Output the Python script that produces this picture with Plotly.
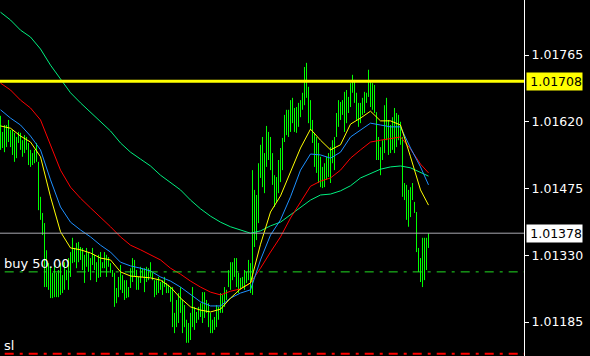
import plotly.graph_objects as go

# ---- bar data (high / low per bar, oldest -> newest) ----
highs = [
    1.01633, 1.01598, 1.01613, 1.01613, 1.01624, 1.01602, 1.01602, 1.01596, 1.01587, 1.01598,
    1.01596, 1.01580, 1.01591, 1.01587, 1.01574, 1.01559, 1.01552, 1.01559, 1.01574, 1.01533,
    1.01457, 1.01422, 1.01400, 1.01341, 1.01313, 1.01305, 1.01292, 1.01313, 1.01292, 1.01298,
    1.01313, 1.01287, 1.01315, 1.01298, 1.01324, 1.01337, 1.01368, 1.01346, 1.01357, 1.01359,
    1.01348, 1.01346, 1.01331, 1.01346, 1.01337, 1.01324, 1.01346, 1.01331, 1.01315, 1.01331,
    1.01337, 1.01315, 1.01337, 1.01331, 1.01326, 1.01313, 1.01298, 1.01292, 1.01259, 1.01283,
    1.01309, 1.01287, 1.01276, 1.01276, 1.01261, 1.01302, 1.01324, 1.01320, 1.01298, 1.01283,
    1.01305, 1.01302, 1.01302, 1.01305, 1.01302, 1.01315, 1.01292, 1.01276, 1.01276, 1.01283,
    1.01272, 1.01276, 1.01283, 1.01270, 1.01266, 1.01261, 1.01261, 1.01205, 1.01233, 1.01248,
    1.01261, 1.01233, 1.01222, 1.01190, 1.01183, 1.01205, 1.01261, 1.01218, 1.01207, 1.01218,
    1.01226, 1.01250, 1.01250, 1.01233, 1.01226, 1.01205, 1.01190, 1.01196, 1.01222, 1.01218,
    1.01248, 1.01244, 1.01261, 1.01255, 1.01298, 1.01315, 1.01315, 1.01324, 1.01324, 1.01292,
    1.01281, 1.01283, 1.01298, 1.01294, 1.01320, 1.01313, 1.01515, 1.01472, 1.01461, 1.01530,
    1.01570, 1.01587, 1.01552, 1.01611, 1.01598, 1.01587, 1.01552, 1.01504, 1.01500, 1.01537,
    1.01563, 1.01585, 1.01635, 1.01646, 1.01646, 1.01667, 1.01672, 1.01650, 1.01652, 1.01661,
    1.01667, 1.01683, 1.01739, 1.01748, 1.01696, 1.01667, 1.01624, 1.01596, 1.01587, 1.01574,
    1.01544, 1.01522, 1.01530, 1.01544, 1.01552, 1.01565, 1.01580, 1.01587, 1.01639, 1.01667,
    1.01663, 1.01667, 1.01685, 1.01689, 1.01674, 1.01704, 1.01722, 1.01711, 1.01683, 1.01661,
    1.01661, 1.01672, 1.01685, 1.01683, 1.01733, 1.01706, 1.01704, 1.01700, 1.01641, 1.01587,
    1.01565, 1.01580, 1.01656, 1.01672, 1.01624, 1.01613, 1.01630, 1.01650, 1.01639, 1.01635,
    1.01620, 1.01587, 1.01487, 1.01483, 1.01472, 1.01478, 1.01487, 1.01446, 1.01424, 1.01346,
    1.01324, 1.01368, 1.01368, 1.01368, 1.01378,
]
lows = [
    1.01559, 1.01563, 1.01554, 1.01565, 1.01576, 1.01565, 1.01548, 1.01533, 1.01541, 1.01574,
    1.01559, 1.01544, 1.01552, 1.01559, 1.01526, 1.01522, 1.01526, 1.01530, 1.01533, 1.01428,
    1.01407, 1.01374, 1.01261, 1.01261, 1.01255, 1.01237, 1.01237, 1.01239, 1.01239, 1.01239,
    1.01244, 1.01248, 1.01255, 1.01276, 1.01255, 1.01283, 1.01313, 1.01315, 1.01302, 1.01315,
    1.01320, 1.01298, 1.01270, 1.01305, 1.01294, 1.01276, 1.01309, 1.01298, 1.01272, 1.01281,
    1.01283, 1.01302, 1.01302, 1.01283, 1.01305, 1.01292, 1.01283, 1.01218, 1.01226, 1.01239,
    1.01255, 1.01248, 1.01233, 1.01237, 1.01239, 1.01259, 1.01272, 1.01283, 1.01255, 1.01255,
    1.01270, 1.01283, 1.01250, 1.01272, 1.01276, 1.01283, 1.01276, 1.01239, 1.01244, 1.01248,
    1.01255, 1.01244, 1.01261, 1.01248, 1.01248, 1.01229, 1.01174, 1.01161, 1.01174, 1.01183,
    1.01205, 1.01161, 1.01174, 1.01140, 1.01140, 1.01146, 1.01174, 1.01168, 1.01183, 1.01190,
    1.01196, 1.01183, 1.01194, 1.01205, 1.01174, 1.01161, 1.01161, 1.01168, 1.01174, 1.01190,
    1.01205, 1.01205, 1.01218, 1.01233, 1.01261, 1.01255, 1.01276, 1.01283, 1.01261, 1.01248,
    1.01255, 1.01261, 1.01255, 1.01270, 1.01276, 1.01248, 1.01244, 1.01348, 1.01363, 1.01400,
    1.01498, 1.01478, 1.01465, 1.01522, 1.01537, 1.01515, 1.01483, 1.01435, 1.01446, 1.01465,
    1.01489, 1.01515, 1.01576, 1.01591, 1.01587, 1.01598, 1.01617, 1.01598, 1.01596, 1.01609,
    1.01630, 1.01646, 1.01656, 1.01672, 1.01617, 1.01602, 1.01574, 1.01522, 1.01509, 1.01487,
    1.01478, 1.01476, 1.01478, 1.01494, 1.01500, 1.01487, 1.01530, 1.01515, 1.01587, 1.01609,
    1.01624, 1.01635, 1.01598, 1.01617, 1.01639, 1.01652, 1.01683, 1.01661, 1.01624, 1.01609,
    1.01617, 1.01635, 1.01639, 1.01661, 1.01674, 1.01652, 1.01646, 1.01639, 1.01537, 1.01537,
    1.01504, 1.01537, 1.01552, 1.01580, 1.01548, 1.01552, 1.01559, 1.01552, 1.01565, 1.01580,
    1.01570, 1.01457, 1.01450, 1.01407, 1.01392, 1.01413, 1.01450, 1.01422, 1.01337, 1.01294,
    1.01272, 1.01261, 1.01276, 1.01298, 1.01346,
]

# ---- moving averages, sampled at bar indices ----
ma_index = list(range(0, 211, 5)) + [214]
ma_yellow = [
    1.01611, 1.01606, 1.01589, 1.01576, 1.01544, 1.01457, 1.01381, 1.01346, 1.01342, 1.01335,
    1.01324, 1.01320, 1.01294, 1.01285, 1.01283, 1.01281, 1.01276, 1.01261, 1.01237, 1.01218,
    1.01211, 1.01207, 1.01213, 1.01237, 1.01257, 1.01270, 1.01354, 1.01424, 1.01459, 1.01511,
    1.01563, 1.01604, 1.01580, 1.01559, 1.01570, 1.01615, 1.01628, 1.01643, 1.01622, 1.01622,
    1.01613, 1.01544, 1.01472, 1.01439,
]
ma_blue = [
    1.01646, 1.01628, 1.01613, 1.01589, 1.01559, 1.01494, 1.01435, 1.01402, 1.01385, 1.01370,
    1.01352, 1.01337, 1.01315, 1.01307, 1.01302, 1.01296, 1.01283, 1.01274, 1.01261, 1.01244,
    1.01229, 1.01220, 1.01220, 1.01237, 1.01248, 1.01255, 1.01320, 1.01374, 1.01407, 1.01457,
    1.01515, 1.01550, 1.01548, 1.01541, 1.01554, 1.01587, 1.01602, 1.01617, 1.01613, 1.01609,
    1.01609, 1.01563, 1.01522, 1.01483,
]
ma_red = [
    1.01704, 1.01689, 1.01667, 1.01650, 1.01624, 1.01570, 1.01515, 1.01478, 1.01454, 1.01433,
    1.01413, 1.01392, 1.01370, 1.01352, 1.01342, 1.01331, 1.01320, 1.01302, 1.01289, 1.01274,
    1.01261, 1.01250, 1.01244, 1.01252, 1.01257, 1.01270, 1.01302, 1.01337, 1.01370, 1.01411,
    1.01446, 1.01480, 1.01491, 1.01498, 1.01515, 1.01541, 1.01559, 1.01576, 1.01580, 1.01583,
    1.01587, 1.01561, 1.01528, 1.01509,
]
ma_green = [
    1.01858, 1.01841, 1.01819, 1.01804, 1.01778, 1.01743, 1.01713, 1.01683, 1.01661, 1.01641,
    1.01620, 1.01600, 1.01574, 1.01554, 1.01539, 1.01524, 1.01504, 1.01489, 1.01472, 1.01450,
    1.01431, 1.01415, 1.01402, 1.01392, 1.01385, 1.01378, 1.01383, 1.01394, 1.01402, 1.01418,
    1.01433, 1.01450, 1.01461, 1.01463, 1.01470, 1.01481, 1.01498, 1.01507, 1.01517, 1.01522,
    1.01524, 1.01520, 1.01509, 1.01502,
]

# ---- levels and labels ----
level_line = 1.01708
bid_price = 1.01378
buy_price = 1.01294
sl_price = 1.01116
buy_text = "buy 50.00"
sl_text = "sl"
tick_values = [1.01185, 1.01330, 1.01475, 1.01620, 1.01765]
tick_labels = ["1.01185", "1.01330", "1.01475", "1.01620", "1.01765"]

bx, by = [], []
for i, (h, l) in enumerate(zip(highs, lows)):
    bx += [i, i, None]
    by += [l, h, None]

fig = go.Figure()
fig.add_trace(go.Scatter(x=bx, y=by, mode="lines",
                         line=dict(color="#00ff00", width=1), hoverinfo="skip"))
for vals, col in [(ma_green, "#00f080"), (ma_red, "#ff0000"),
                  (ma_blue, "#1e90ff"), (ma_yellow, "#ffff00")]:
    fig.add_trace(go.Scatter(x=ma_index, y=vals, mode="lines",
                             line=dict(color=col, width=1), hoverinfo="skip"))

dash = "9px,6px,3px,6px"
shapes = [
    dict(type="line", xref="paper", yref="y", x0=0, x1=1, y0=bid_price, y1=bid_price,
         line=dict(color="#a8a8b0", width=1)),
    dict(type="line", xref="paper", yref="y", x0=0.009, x1=1, y0=buy_price, y1=buy_price,
         line=dict(color="#22dd22", width=1, dash=dash)),
    dict(type="line", xref="paper", yref="y", x0=0.009, x1=1, y0=sl_price, y1=sl_price,
         line=dict(color="#ff0000", width=2, dash=dash)),
    dict(type="line", xref="paper", yref="y", x0=0, x1=1, y0=level_line, y1=level_line,
         line=dict(color="#ffff00", width=3)),
]

font_axis = dict(family="DejaVu Sans", size=12.5, color="white")
annotations = [
    dict(xref="paper", yref="y", x=1, y=level_line, xanchor="left", yanchor="middle",
         xshift=2, text="1.01708", showarrow=False, bgcolor="#ffff00",
         font=dict(family="DejaVu Sans", size=12.5, color="black"),
         width=55, height=17, align="right", borderpad=0),
    dict(xref="paper", yref="y", x=1, y=bid_price, xanchor="left", yanchor="middle",
         xshift=2, text="1.01378", showarrow=False, bgcolor="#ffffff",
         font=dict(family="DejaVu Sans", size=12.5, color="black"),
         width=55, height=17, align="right", borderpad=0),
    dict(xref="paper", yref="y", x=0.006, y=buy_price, xanchor="left", yanchor="bottom",
         text=buy_text, showarrow=False,
         font=dict(family="DejaVu Sans", size=13, color="white"), borderpad=0),
    dict(xref="paper", yref="y", x=0.006, y=sl_price, xanchor="left", yanchor="bottom",
         text=sl_text, showarrow=False,
         font=dict(family="DejaVu Sans", size=13, color="white"), borderpad=0),
]

fig.update_layout(
    width=590, height=356,
    margin=dict(l=0, r=66, t=0, b=0),
    paper_bgcolor="black", plot_bgcolor="black",
    showlegend=False,
    shapes=shapes, annotations=annotations,
    xaxis=dict(range=[-0.25, 261.75], visible=False, fixedrange=True),
    yaxis=dict(range=[1.011113, 1.018845], side="right", showgrid=False, zeroline=False,
               tickmode="array", tickvals=tick_values, ticktext=tick_labels,
               ticks="outside", ticklen=4, tickcolor="white", tickfont=font_axis,
               showline=True, linecolor="white", linewidth=1, fixedrange=True),
)

fig.write_html("out.html")
